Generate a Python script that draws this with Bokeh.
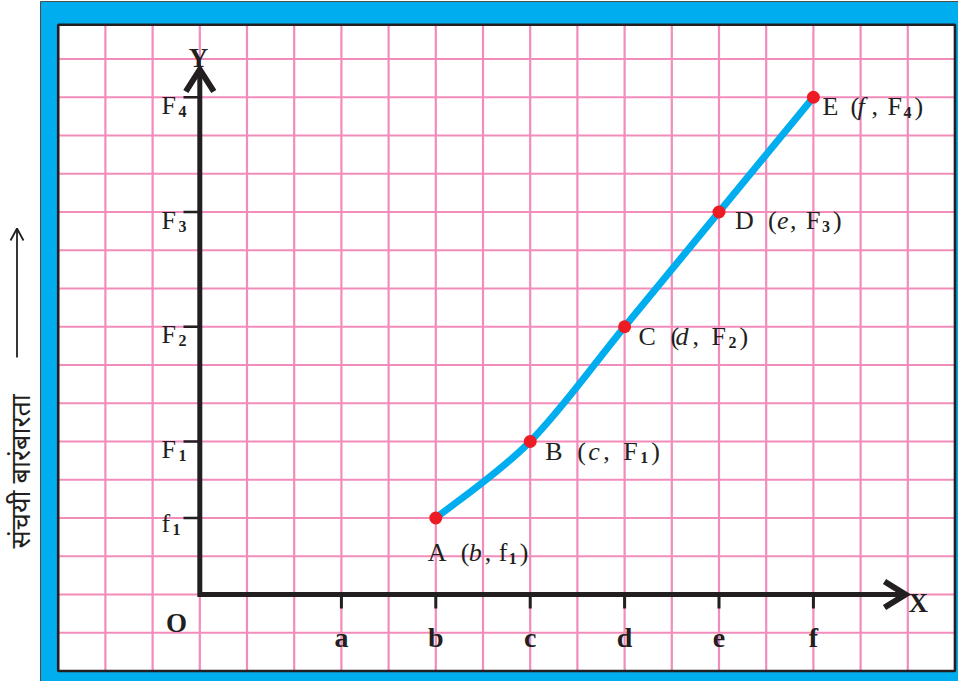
import numpy as np
from bokeh.plotting import figure
from bokeh.models import Range1d
from bokeh.core.properties import value
from bokeh.embed import file_html
from bokeh.resources import INLINE

# ---------------- data ----------------
point_names = ["A", "B", "C", "D", "E"]
point_x_symbols = ["b", "c", "d", "e", "f"]
point_y_symbols = ["f", "F", "F", "F", "F"]
point_y_subs = ["1", "1", "2", "3", "4"]
point_x = [5, 7, 9, 11, 13]      # class limits (grid units)
point_y = [2, 4, 7, 10, 13]      # cumulative frequencies (grid units)

x_tick_values = [3, 5, 7, 9, 11, 13]
x_tick_labels = ["a", "b", "c", "d", "e", "f"]
y_tick_values = [2, 4, 7, 10, 13]
y_tick_main = ["f", "F", "F", "F", "F"]
y_tick_subs = ["1", "1", "2", "3", "4"]

y_title = "संचयी  बारंबारता"
x_axis_name = "X"
y_axis_name = "Y"
origin_name = "O"

# ---------------- layout / style ----------------
BLUE = "#00aeef"
RED = "#ed1c24"
PINK = "#f28cbb"
BLACK = "#231f20"
SERIF = value("Liberation Serif")

XU, YU = 47.2, 38.25      # px per grid unit
OX, OY = 199.3, 594.0     # canvas position of origin
W, H = 958, 681


def px_x(px):
    return (px - OX) / XU


def px_y(py):
    return (OY - py) / YU


p = figure(width=W, height=H,
           x_range=Range1d(px_x(0), px_x(W)),
           y_range=Range1d(px_y(H), px_y(0)),
           output_backend="svg", toolbar_location=None,
           x_axis_location=None, y_axis_location=None,
           min_border=0, outline_line_color=None,
           background_fill_color="white", border_fill_color="white")
p.grid.visible = False

# blue frame and white sheet
p.quad(left=px_x(40), right=px_x(973), bottom=px_y(694), top=px_y(1),
       fill_color=BLUE, line_color="#4d4d4d", line_width=1)
g_left, g_right, g_bottom, g_top = -3, 16, -2, px_y(24.3)
p.quad(left=g_left, right=g_right, bottom=g_bottom, top=g_top,
       fill_color="white", line_color=None)

# pink graph-paper grid
vx = list(range(g_left, g_right + 1))
p.segment(x0=vx, y0=[g_bottom] * len(vx), x1=vx, y1=[g_top] * len(vx),
          line_color=PINK, line_width=2.2)
hy = list(range(g_bottom, 15))
p.segment(x0=[g_left] * len(hy), y0=hy, x1=[g_right] * len(hy), y1=hy,
          line_color=PINK, line_width=2.2)
p.quad(left=g_left, right=g_right, bottom=g_bottom, top=g_top,
       fill_color=None, line_color=BLACK, line_width=2.6)

# axes with arrow heads
y_tip = px_y(69)
x_tip = px_x(905)
p.line([0, 0, x_tip], [y_tip, 0, 0], line_color=BLACK, line_width=5,
       line_join="miter")
p.multi_line(xs=[[-14 / XU, 0, 14 / XU],
                 [x_tip - 21 / XU, x_tip, x_tip - 21 / XU]],
             ys=[[y_tip - 22 / YU, y_tip, y_tip - 22 / YU],
                 [13 / YU, 0, -13 / YU]],
             line_color=BLACK, line_width=6, line_join="miter")

# ticks
p.segment(x0=[px_x(183)] * len(y_tick_values), y0=y_tick_values,
          x1=[0] * len(y_tick_values), y1=y_tick_values,
          line_color=BLACK, line_width=2.6)
p.segment(x0=x_tick_values, y0=[0] * len(x_tick_values),
          x1=x_tick_values, y1=[px_y(608)] * len(x_tick_values),
          line_color=BLACK, line_width=3)

# tick labels
p.text(x=x_tick_values, y=[0] * len(x_tick_values), text=x_tick_labels,
       y_offset=43, text_font=SERIF, text_font_size="28px",
       text_font_style="bold", text_align="center",
       text_baseline="alphabetic", text_color=BLACK)
main_x = [px_x(161)] * len(y_tick_values)
main_dy = [5 if s == "f" else 8 for s in y_tick_main]
sub_x = [px_x(172 if s == "f" else 178) for s in y_tick_main]
sub_dy = [d + 6 for d in main_dy]
p.text(x=main_x, y=y_tick_values, text=y_tick_main, y_offset=main_dy,
       text_font=SERIF, text_font_size="26px", text_align="left",
       text_baseline="alphabetic", text_color=BLACK)
p.text(x=sub_x, y=y_tick_values, text=y_tick_subs, y_offset=sub_dy,
       text_font=SERIF, text_font_size="16px", text_font_style="bold",
       text_align="left", text_baseline="alphabetic", text_color=BLACK)

p.text(x=[px_x(176)], y=[0], text=[origin_name], y_offset=28,
       text_font=SERIF, text_font_size="27px", text_font_style="bold",
       text_align="center", text_baseline="alphabetic", text_color=BLACK)
p.text(x=[px_x(908)], y=[0], text=[x_axis_name], y_offset=8,
       text_font=SERIF, text_font_size="27px", text_font_style="bold",
       text_align="left", text_baseline="alphabetic", text_color=BLACK)
p.text(x=[px_x(198)], y=[px_y(57)], text=[y_axis_name],
       text_font=SERIF, text_font_size="27px", text_font_style="bold",
       text_align="center", text_baseline="alphabetic", text_color=BLACK)

# vertical title on the left
p.text(x=[px_x(18.5)], y=[px_y(548)], text=[y_title], angle=np.pi / 2,
       text_font=value("Noto Sans"), text_font_size="27px",
       text_align="left", text_baseline="middle", text_color=BLACK)
ax = px_x(16.5)
p.line([ax, ax], [px_y(357), px_y(228)], line_color=BLACK, line_width=1.8)
p.line([px_x(10), ax, px_x(23)], [px_y(240), px_y(228), px_y(240)],
       line_color=BLACK, line_width=1.8)

# smooth ogive through the points (Catmull-Rom as cubic Bezier)
P = np.column_stack([point_x, point_y]).astype(float)
ext = np.vstack([P[0], P, P[-1]])
c0 = ext[1:-2] + (ext[2:-1] - ext[0:-3]) / 6.0
c1 = ext[2:-1] - (ext[3:] - ext[1:-2]) / 6.0
p.bezier(x0=P[:-1, 0], y0=P[:-1, 1], x1=P[1:, 0], y1=P[1:, 1],
         cx0=c0[:, 0], cy0=c0[:, 1], cx1=c1[:, 0], cy1=c1[:, 1],
         line_color=BLUE, line_width=7, line_cap="round")
p.scatter(point_x, point_y, size=13, fill_color=RED, line_color=None)

# point labels: "A (b, f1)" built from pieces (pixel offsets)
start_dx = [-8, 15, 14, 16, 9]
base_dy = [34, 10, 10, 8, 9.5]
paren_dx = [33, 32, 32, 33, 28]
var_dx = [41, 43, 37, 42, 35]
comma_dx = [57, 58, 54, 55, 49]
f_dx = [71, 78, 73, 71, 65]
sub_dx = [81, 95, 90, 87, 81]
reg = dict(x=[], y=[], text=[], xo=[], yo=[])
ita = dict(x=[], y=[], text=[], xo=[], yo=[])
sub = dict(x=[], y=[], text=[], xo=[], yo=[])


def put(d, x, y, t, xo, yo):
    d["x"].append(x); d["y"].append(y); d["text"].append(t)
    d["xo"].append(xo); d["yo"].append(yo)


for i, name in enumerate(point_names):
    x, y = point_x[i], point_y[i]
    s, b = start_dx[i], base_dy[i]
    put(reg, x, y, name, s, b)
    put(reg, x, y, "(", s + paren_dx[i], b)
    put(ita, x, y, point_x_symbols[i], s + var_dx[i], b)
    put(reg, x, y, ",", s + comma_dx[i], b)
    put(reg, x, y, point_y_symbols[i], s + f_dx[i], b)
    put(sub, x, y, point_y_subs[i], s + sub_dx[i], b + 6)
    put(reg, x, y, ")", s + sub_dx[i] + 11, b)

for d, size, style in [(reg, "26px", "normal"), (ita, "26px", "italic"),
                       (sub, "16px", "bold")]:
    p.text(x=d["x"], y=d["y"], text=d["text"], x_offset=d["xo"],
           y_offset=d["yo"], text_font=SERIF, text_font_size=size,
           text_font_style=style, text_align="left",
           text_baseline="alphabetic", text_color=BLACK)

open("out.html", "w").write(file_html(p, INLINE))
